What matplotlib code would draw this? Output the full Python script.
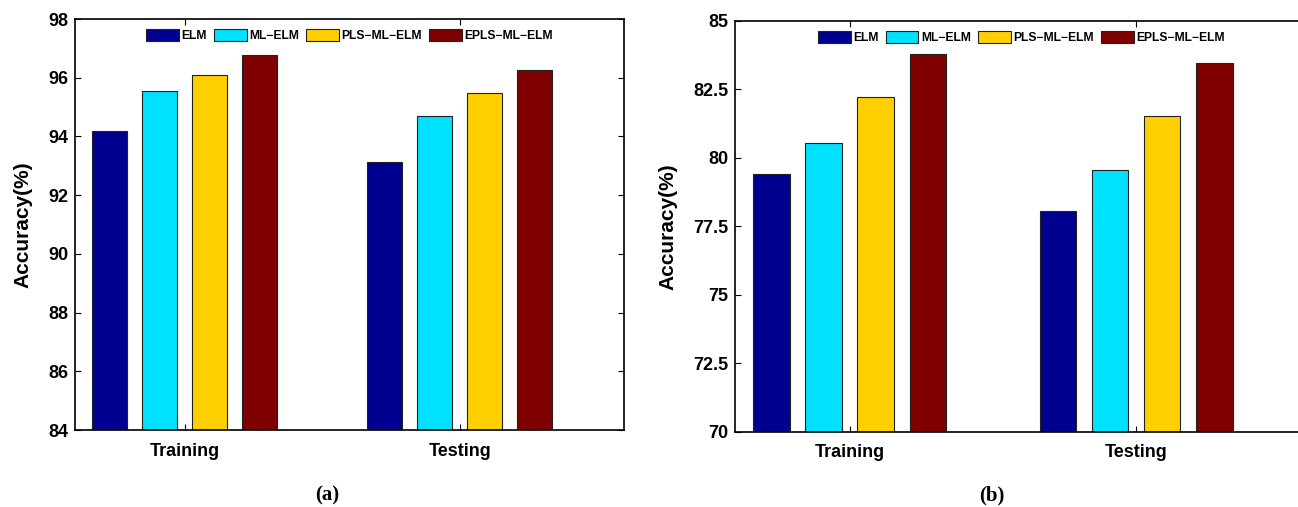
import numpy as np
import matplotlib
matplotlib.use("Agg")
import matplotlib.pyplot as plt

methods = ["ELM", "ML\u2212ELM", "PLS\u2212ML\u2212ELM", "EPLS\u2212ML\u2212ELM"]
colors = ["#000090", "#00E1FF", "#FFCF00", "#800000"]
groups = ["Training", "Testing"]

acc_a = [[94.17, 93.14],   # ELM
         [95.56, 94.69],   # ML-ELM
         [96.09, 95.48],   # PLS-ML-ELM
         [96.77, 96.25]]   # EPLS-ML-ELM
acc_b = [[79.42, 78.06],
         [80.55, 79.55],
         [82.21, 81.54],
         [83.80, 83.47]]

yticks_a = [84, 86, 88, 90, 92, 94, 96, 98]
yticks_b = [70, 72.5, 75, 77.5, 80, 82.5, 85]

plt.rcParams['font.family'] = ['Liberation Sans', 'DejaVu Sans']
plt.rcParams['font.weight'] = 'bold'

fig = plt.figure(figsize=(12.98, 5.07), dpi=100)

def panel(rect, acc, yticks, caption, capx):
    ax = fig.add_axes(rect)
    x = np.arange(1, len(groups) + 1)
    w = 0.127
    step = 0.182
    for i, m in enumerate(methods):
        off = (i - 1.5) * step
        ax.bar(x + off, acc[i], width=w, color=colors[i], edgecolor='#222222',
               linewidth=0.8, label=m, zorder=2)
    # the right part of panel (b) runs off the page, as in the original
    ax.set_xlim(0.6, 2.6)
    ax.set_ylim(yticks[0], yticks[-1])
    ax.set_yticks(yticks)
    ax.set_yticklabels([f"{t:g}" for t in yticks])
    ax.set_xticks(x)
    ax.set_xticklabels(groups)
    ax.tick_params(direction='in', top=True, right=True, length=4, width=0.8,
                   labelsize=13)
    ax.tick_params(axis='y', pad=5)
    ax.tick_params(axis='x', pad=9)
    for s in ax.spines.values():
        s.set_linewidth(1.2)
    ax.set_ylabel("Accuracy(%)", fontsize=15, fontweight='bold', labelpad=11)
    ax.legend(loc='upper center', ncol=4, frameon=False,
              handlelength=2.68, handleheight=1.09, columnspacing=0.6,
              handletextpad=0.23, borderaxespad=0.45,
              prop={'weight': 'bold', 'size': 8.7})
    fig.text(capx, 0.022, caption, ha='center', va='center', fontsize=15,
             fontweight='bold', family=['Liberation Serif', 'DejaVu Serif'])
    return ax

panel([0.05778, 0.15187, 0.42334, 0.81065], acc_a, yticks_a, "(a)", 327 / 1298)
panel([0.56626, 0.14793, 0.44145, 0.81065], acc_b, yticks_b, "(b)", 992 / 1298)

fig.savefig("out.png", dpi=100)
